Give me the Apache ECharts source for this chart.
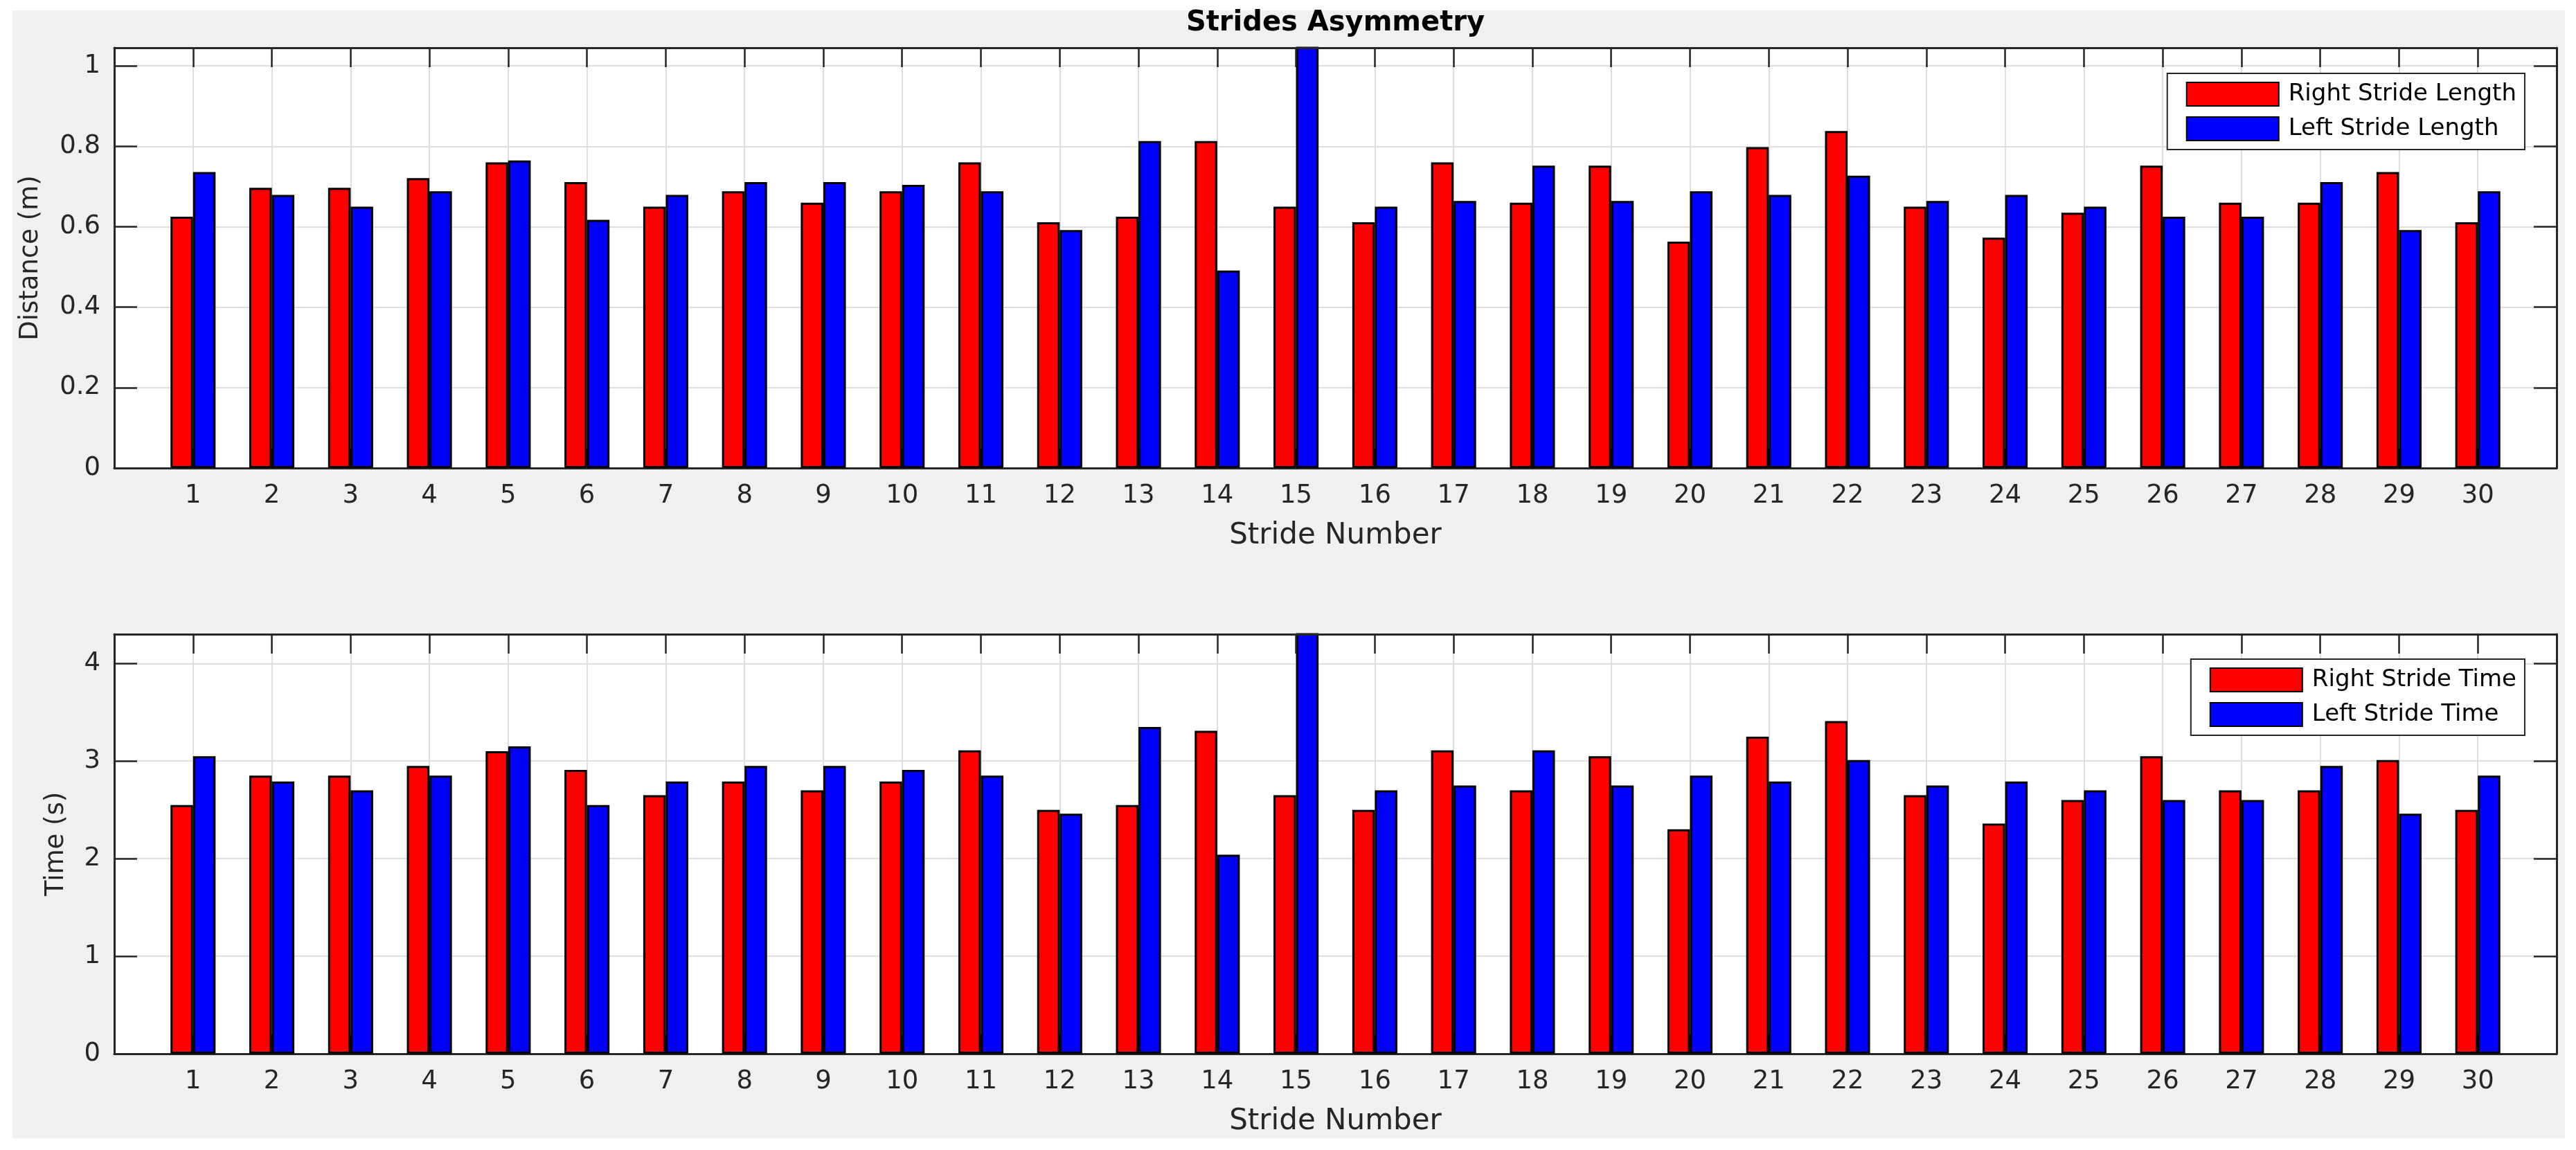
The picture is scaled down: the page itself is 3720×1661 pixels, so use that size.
<!DOCTYPE html>
<html>
<head>
<meta charset="utf-8">
<script src="https://cdn.jsdelivr.net/npm/echarts@6/dist/echarts.min.js"></script>
<style>
html,body{margin:0;padding:0;background:#fff;}
#c{width:3720px;height:1661px;}
</style>
</head>
<body>
<div id="c"></div>
<script>
// ---- data ----
const strides = [1,2,3,4,5,6,7,8,9,10,11,12,13,14,15,16,17,18,19,20,21,22,23,24,25,26,27,28,29,30];
const rightLength = [0.625,0.697,0.697,0.721,0.760,0.711,0.650,0.688,0.660,0.688,0.760,0.611,0.625,0.813,0.650,0.611,0.760,0.660,0.752,0.563,0.798,0.838,0.650,0.573,0.635,0.752,0.660,0.660,0.736,0.611];
const leftLength  = [0.736,0.679,0.650,0.688,0.765,0.617,0.679,0.711,0.711,0.704,0.688,0.592,0.813,0.491,1.120,0.650,0.664,0.752,0.664,0.688,0.679,0.727,0.664,0.679,0.650,0.625,0.625,0.711,0.592,0.688];
const rightTime = [2.55,2.85,2.85,2.95,3.10,2.91,2.65,2.79,2.70,2.79,3.11,2.50,2.55,3.31,2.65,2.50,3.11,2.70,3.05,2.30,3.25,3.41,2.65,2.36,2.60,3.05,2.70,2.70,3.01,2.50];
const leftTime  = [3.05,2.79,2.70,2.85,3.15,2.55,2.79,2.95,2.95,2.91,2.85,2.46,3.35,2.04,4.45,2.70,2.75,3.11,2.75,2.85,2.79,3.01,2.75,2.79,2.70,2.60,2.60,2.95,2.46,2.85];
const lengthTicks = [0,0.2,0.4,0.6,0.8,1];
const timeTicks = [0,1,2,3,4];
const seriesNames = ['Right Stride Length','Left Stride Length','Right Stride Time','Left Stride Time'];

// ---- styling ----
const FONT = 'DejaVu Sans';
const AX = '#262626';
const GRIDC = '#dedede';
const chart = echarts.init(document.getElementById('c'), null, {renderer:'canvas'});

const X_MIN = 0, X_MAX = 31;
const L = 165, W = 3527;
const grids = [
  {left:L, top:69, width:W, height:607},
  {left:L, top:916, width:W, height:606}
];
const yMax = [1.045, 4.3];
const yInt = [0.2, 1];
const yTickLists = [lengthTicks, timeTicks];
const yNames = ['Distance (m)', 'Time (s)'];
const yNameGaps = [102, 65];

function inList(list, v){ return list.some(t => Math.abs(t - v) < 1e-9); }

const xAxis = [], yAxis = [];
[0,1].forEach(g => {
  xAxis.push({
    type:'value', gridIndex:g, position:'bottom', min:X_MIN, max:X_MAX, interval:1,
    axisLine:{show:true, onZero:false, lineStyle:{color:AX, width:3}},
    axisTick:{show:true, inside:true, length:28, lineStyle:{color:AX, width:2.5}},
    axisLabel:{show:true, margin:22, fontFamily:FONT, fontSize:37, color:AX,
      formatter: v => inList(strides, v) ? String(v) : ''},
    splitLine:{show:true, lineStyle:{color:GRIDC, width:2}},
    name:'Stride Number', nameLocation:'middle', nameGap:77,
    nameTextStyle:{fontFamily:FONT, fontSize:42, color:AX}
  });
  xAxis.push({
    type:'value', gridIndex:g, position:'top', min:X_MIN, max:X_MAX, interval:1, z:5,
    axisLine:{show:true, onZero:false, lineStyle:{color:AX, width:3}},
    axisTick:{show:true, inside:true, length:28, lineStyle:{color:AX, width:2.5}},
    axisLabel:{show:false}, splitLine:{show:false}
  });
  yAxis.push({
    type:'value', gridIndex:g, position:'left', min:0, max:yMax[g], interval:yInt[g],
    axisLine:{show:true, onZero:false, lineStyle:{color:AX, width:3}},
    axisTick:{show:true, inside:true, length:33, lineStyle:{color:AX, width:2.5}},
    axisLabel:{show:true, margin:20, fontFamily:FONT, fontSize:37, color:AX,
      formatter: v => inList(yTickLists[g], v) ? String(v) : ''},
    splitLine:{show:true, lineStyle:{color:GRIDC, width:2}},
    name:yNames[g], nameLocation:'middle', nameGap:yNameGaps[g], nameRotate:90,
    nameTextStyle:{fontFamily:FONT, fontSize:37, color:AX}
  });
  yAxis.push({
    type:'value', gridIndex:g, position:'right', min:0, max:yMax[g], interval:yInt[g], z:5,
    axisLine:{show:true, onZero:false, lineStyle:{color:AX, width:3}},
    axisTick:{show:true, inside:true, length:33, lineStyle:{color:AX, width:2.5}},
    axisLabel:{show:false}, splitLine:{show:false}
  });
});

function barSeries(name, values, color, g){
  return {
    type:'bar', name:name, xAxisIndex:g*2, yAxisIndex:g*2,
    data: strides.map((s,i) => [s, values[i]]),
    barWidth:'28.6%', barGap:'0%', clip:true,
    itemStyle:{color:color, borderColor:'#000', borderWidth:3},
    emphasis:{disabled:true}
  };
}

function legendOf(names, top){
  return {
    data:names, orient:'vertical', right:74, top:top,
    itemWidth:133, itemHeight:34, itemGap:14, icon:'rect',
    padding:[12,12,12,27], backgroundColor:'#fff', borderColor:AX, borderWidth:2,
    selectedMode:false,
    textStyle:{fontFamily:FONT, fontSize:34, color:'#000', padding:[0,0,0,9]}
  };
}

chart.setOption({
  animation:false,
  backgroundColor:'#fff',
  graphic:[
    {type:'rect', z:-10, silent:true, shape:{x:18, y:15, width:3686, height:1629}, style:{fill:'#f0f0f0'}},
    {type:'text', z:10, x:L + W/2, y:34, silent:true,
      style:{text:'Strides Asymmetry', font:'bold 40px "DejaVu Sans"', fill:'#000',
        align:'center', verticalAlign:'middle', textAlign:'center', textVerticalAlign:'middle'}}
  ],
  grid: grids.map(gr => Object.assign({show:true, backgroundColor:'#fff', borderWidth:0, containLabel:false}, gr)),
  xAxis: xAxis,
  yAxis: yAxis,
  legend:[ legendOf([seriesNames[0], seriesNames[1]], 106), legendOf([seriesNames[2], seriesNames[3]], 952) ],
  series:[
    barSeries(seriesNames[0], rightLength, '#ff0000', 0),
    barSeries(seriesNames[1], leftLength, '#0000ff', 0),
    barSeries(seriesNames[2], rightTime, '#ff0000', 1),
    barSeries(seriesNames[3], leftTime, '#0000ff', 1)
  ]
});
</script>
</body>
</html>
